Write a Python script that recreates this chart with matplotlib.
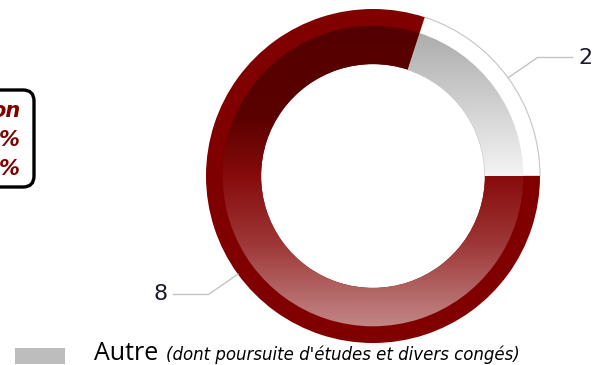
import matplotlib.pyplot as plt
import numpy as np
from matplotlib.colors import LinearSegmentedColormap
from matplotlib.patches import FancyBboxPatch, Rectangle

# data
values = [2, 8]
value_labels = ["2", "8"]
legend_name = "Autre"
legend_note = "(dont poursuite d'études et divers congés)"
tooltip_lines = ["on", "%", "%"]

W, H = 597, 365
fig = plt.figure(figsize=(W / 100, H / 100), dpi=100)

# background axes in pixel coordinates (tooltip + legend)
bg = fig.add_axes([0, 0, 1, 1])
bg.set_xlim(0, W)
bg.set_ylim(H, 0)
bg.axis("off")

# donut axes: centre (373, 176) px, radius 167 px
cx, cy, R = 373, 176, 167
ax = fig.add_axes([(cx - R) / W, (H - cy - R) / H, 2 * R / W, 2 * R / H])

r_hole = 0.67
r_band = 0.90

outer, _ = ax.pie(values, radius=1.0, startangle=0, counterclock=True,
                  colors=["white", "#800000"],
                  wedgeprops=dict(width=1 - r_hole, edgecolor="none"))
outer[0].set_edgecolor("#c4c4c4")
outer[0].set_linewidth(0.8)

inner, _ = ax.pie(values, radius=r_band, startangle=0, counterclock=True,
                  colors=["none", "none"],
                  wedgeprops=dict(width=r_band - r_hole, edgecolor="none"))

# vertical gradients clipped to the inner wedges
yy = np.linspace(1, -1, 400).reshape(-1, 1)
grey_cmap = LinearSegmentedColormap.from_list(
    "g", [(0, "#f4f4f4"), (0.5, "#f4f4f4"), (0.97, "#a6a6a6"), (1, "#a6a6a6")])
red_cmap = LinearSegmentedColormap.from_list(
    "r", [(0, "#c99393"), (0.1, "#bb7676"), (0.3, "#9d3636"),
          (0.5, "#870b0b"), (0.68, "#5a0000"), (1, "#540000")])
for wedge, cmap in zip(inner, [grey_cmap, red_cmap]):
    im = ax.imshow((yy + 1) / 2, cmap=cmap, vmin=0, vmax=1, aspect="auto",
                   extent=(-1, 1, -1, 1), zorder=2, interpolation="bilinear")
    im.set_clip_path(wedge)

# data labels with elbow connectors
total = sum(values)
start = 0.0
for v, lab in zip(values, value_labels):
    mid = np.deg2rad(360 * (start + v / 2) / total)
    start += v
    c, s = np.cos(mid), np.sin(mid)
    side = 1 if c >= 0 else -1
    x1, y1 = 1.02 * c + side * 0.16, 1.02 * s + np.sign(s) * 0.11
    x2 = x1 + side * 0.21
    ax.plot([c, x1, x2], [s, y1, y1], color="#c4c4c4", lw=1.0, zorder=3,
            clip_on=False)
    ax.text(x2 + side * 0.035, y1, lab, fontsize=16, color="#1a1a2a",
            ha="left" if side > 0 else "right", va="center",
            family="DejaVu Sans")

ax.set_xlim(-1, 1)
ax.set_ylim(-1, 1)
ax.axis("off")

# cut-off tooltip on the left
bg.add_patch(FancyBboxPatch((-40, 90), 74, 97,
                            boxstyle="round,pad=0,rounding_size=11",
                            facecolor="white", edgecolor="black", lw=2.4,
                            clip_on=True))
for i, t in enumerate(tooltip_lines):
    bg.text(20, 117 + 29 * i, t, fontsize=15, color="#800000",
            fontweight="bold", fontstyle="italic", ha="right", va="baseline",
            family="DejaVu Sans")

# legend
bg.add_patch(Rectangle((15, 348), 50, 16, facecolor="#bdbdbd", edgecolor="none"))
bg.text(94, 360, legend_name, fontsize=18, color="black", ha="left",
        va="baseline", family="Open Sans")
bg.text(166, 360, legend_note, fontsize=12, color="black", ha="left",
        va="baseline", fontstyle="italic", family="DejaVu Sans")

fig.savefig("out.png", dpi=100)
